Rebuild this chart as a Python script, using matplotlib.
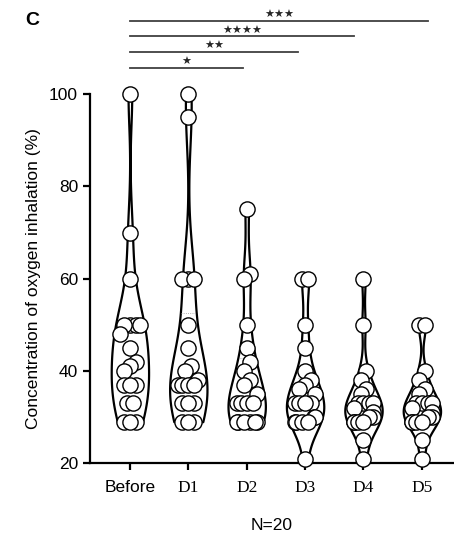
import numpy as np
import matplotlib.pyplot as plt

groups = ["Before", "D1", "D2", "D3", "D4", "D5"]
before = [100, 70, 60, 50, 50, 50, 50, 48, 45, 42, 41, 40, 37, 37, 37, 33, 33, 29, 29, 29]
d1 = [100, 95, 60, 60, 60, 50, 45, 41, 40, 38, 37, 37, 37, 37, 33, 33, 33, 29, 29, 29]
d2 = [75, 61, 60, 50, 45, 42, 40, 38, 37, 35, 33, 33, 33, 33, 29, 29, 29, 29, 29, 29]
d3 = [60, 60, 50, 45, 40, 38, 37, 36, 35, 33, 33, 33, 33, 30, 30, 29, 29, 29, 29, 21]
d4 = [60, 50, 40, 38, 36, 35, 33, 33, 33, 33, 32, 31, 30, 30, 29, 29, 29, 29, 25, 21]
d5 = [50, 50, 40, 38, 36, 35, 33, 33, 33, 33, 32, 31, 30, 30, 29, 29, 29, 29, 25, 21]
data = [before, d1, d2, d3, d4, d5]

# significance brackets: (start group, end group, label)
sig_pairs = [(0, 1.93, "★"), (0, 2.88, "★★"), (0, 3.84, "★★★★"), (0, 5.1, "★★★")]
sig_levels = [105.7, 109.2, 112.6, 115.9]


def spread(vals, step=0.1):
    # deterministic side-by-side offsets for points with similar values
    vals = np.array(vals, dtype=float)
    offs = np.zeros(len(vals))
    order = np.argsort(vals)
    i = 0
    while i < len(order):
        j = i
        while j + 1 < len(order) and vals[order[j + 1]] - vals[order[i]] < 2.5:
            j += 1
        n = j - i + 1
        for k in range(n):
            offs[order[i + k]] = (k - (n - 1) / 2) * step
        i = j + 1
    return np.clip(offs, -0.17, 0.17)


fig = plt.figure(figsize=(4.54, 5.38), dpi=100)
ax = fig.add_axes([0.198, 0.139, 0.802, 0.686])

pos = np.arange(len(groups))
vp = ax.violinplot(data, positions=pos, widths=0.64, showextrema=False, bw_method=0.4)
for b in vp["bodies"]:
    b.set_facecolor("white")
    b.set_edgecolor("black")
    b.set_linewidth(1.6)
    b.set_alpha(1)

for i, vals in enumerate(data):
    q1, med, q3 = np.percentile(vals, [25, 50, 75])
    for q in (q1, med, q3):
        ax.plot([i - 0.12, i + 0.12], [q, q], color="0.6", lw=0.6, ls=":", zorder=2)
    ax.scatter(i + spread(vals), vals, s=120, facecolor="white", edgecolor="black",
               linewidth=1.0, zorder=3, clip_on=False)

ax.set_xlim(-0.685, 5.55)
ax.set_ylim(20, 100)
ax.set_yticks([20, 40, 60, 80, 100])
ax.set_xticks(pos)
ax.set_xticklabels(groups)
for k, lab in enumerate(ax.get_xticklabels()):
    if k == 0:
        lab.set_fontfamily("Liberation Sans")
    else:
        lab.set_fontfamily("Liberation Serif")
    lab.set_fontsize(12.5)
for lab in ax.get_yticklabels():
    lab.set_fontfamily("Liberation Sans")
    lab.set_fontsize(12.5)

ax.spines["top"].set_visible(False)
ax.spines["right"].set_visible(False)
ax.spines["left"].set_linewidth(1.6)
ax.spines["bottom"].set_linewidth(1.6)
ax.tick_params(width=1.6, length=5)
ax.tick_params(axis="x", pad=7)

ax.set_ylabel("Concentration of oxygen inhalation (%)", family="Liberation Sans", fontsize=12.5, labelpad=6)
ax.set_xlabel("N=20", family="Liberation Sans", fontsize=12.5, labelpad=16)

for (x0, x1, lab), yl in zip(sig_pairs, sig_levels):
    ax.plot([x0, x1], [yl, yl], color="0.25", lw=1.3, clip_on=False)
    ax.text((x0 + x1) / 2, yl + 0.1, lab, ha="center", va="bottom", fontsize=8,
            family="DejaVu Sans", color="0.15")

fig.text(0.055, 0.962, "C", family="Liberation Sans", fontsize=14, fontweight="bold", va="center")

fig.savefig("out.png", dpi=100)
